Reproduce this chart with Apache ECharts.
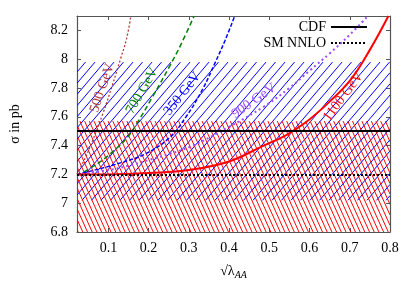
<!DOCTYPE html>
<html><head><meta charset="utf-8">
<script src="https://cdn.jsdelivr.net/npm/echarts@6/dist/echarts.min.js"></script>
<style>html,body{margin:0;padding:0;background:#fff}#c{width:415px;height:291px}</style>
</head><body><div id="c"></div>
<script>
// ---- data ----
const xTicks = [0.1, 0.2, 0.3, 0.4, 0.5, 0.6, 0.7, 0.8];
const yTicks = [6.8, 7.0, 7.2, 7.4, 7.6, 7.8, 8.0, 8.2];
const cdfValue = 7.5;
const cdfBand = [7.02, 7.98];
const nnloValue = 7.2;
const nnloBand = [6.8, 7.57];

const c500x = [0.022, 0.04, 0.06, 0.086, 0.11, 0.13, 0.145, 0.156];
const c500y = [7.2, 7.3, 7.43, 7.62, 7.82, 8.0, 8.14, 8.3];
const c700x = [0.022, 0.076, 0.12, 0.148, 0.17, 0.21, 0.252, 0.28, 0.313];
const c700y = [7.19, 7.28, 7.38, 7.46, 7.55, 7.74, 7.95, 8.1, 8.3];
const c350x = [0.022, 0.08, 0.13, 0.19, 0.25, 0.293, 0.334, 0.366, 0.39, 0.414];
const c350y = [7.2, 7.24, 7.28, 7.34, 7.45, 7.6, 7.79, 7.98, 8.13, 8.3];
const c900x = [0.022, 0.10, 0.15, 0.20, 0.25, 0.31, 0.40, 0.486, 0.55, 0.60, 0.65, 0.70, 0.745];
const c900y = [7.2, 7.23, 7.26, 7.3, 7.34, 7.4, 7.53, 7.67, 7.8, 7.92, 8.04, 8.17, 8.3];
const c1100x = [0.022, 0.10, 0.20, 0.30, 0.40, 0.486, 0.54, 0.59, 0.648, 0.703, 0.751, 0.796];
const c1100y = [7.2, 7.2, 7.21, 7.23, 7.29, 7.40, 7.47, 7.56, 7.70, 7.86, 8.07, 8.3];

const curveLabels = ['500 GeV', '700 GeV', '350 GeV', '900 GeV', '1100 GeV'];
const labelPosX = [0.085, 0.184, 0.284, 0.462, 0.684];
const labelPosY = [7.80, 7.78, 7.76, 7.71, 7.74];
</script>
<script>
const FONT = 'Liberation Serif';
const pairs = (xs, ys) => xs.map((x, i) => [x, ys[i]]);
const XMIN = 0.022, XMAX = 0.8, YMIN = 6.8, YMAX = 8.3;

// hatch lines clipped to a pixel rectangle; direction (dx, 1) going downward
function hatchLines(x0, y0, x1, y1, spacing, dx, color) {
  const H = y1 - y0, out = [];
  const kStart = Math.floor((Math.min(x0, x0 - dx * H) - spacing) / spacing);
  const kEnd = Math.ceil((Math.max(x1, x1 - dx * H) + spacing) / spacing);
  for (let k = kStart; k <= kEnd; k++) {
    const xt = k * spacing;
    let tmin = 0, tmax = H;
    if (dx !== 0) {
      const tA = (x0 - xt) / dx, tB = (x1 - xt) / dx;
      tmin = Math.max(0, Math.min(tA, tB));
      tmax = Math.min(H, Math.max(tA, tB));
    }
    if (tmin < tmax) {
      out.push({ type: 'line', silent: true,
        shape: { x1: xt + dx * tmin, y1: y0 + tmin, x2: xt + dx * tmax, y2: y0 + tmax },
        style: { stroke: color, lineWidth: 1 } });
    }
  }
  return out;
}

function band(name, lo, hi, spacing, dx, color, z) {
  return {
    name, type: 'custom', z, silent: true, clip: true,
    data: [[lo, hi]],
    renderItem: (params, api) => {
      const p1 = api.coord([XMIN, api.value(1)]);
      const p2 = api.coord([XMAX, api.value(0)]);
      return { type: 'group', children: hatchLines(p1[0], p1[1], p2[0], p2[1], spacing, dx, color) };
    }
  };
}

function curve(name, xs, ys, color, type, width, idx, rot) {
  return {
    name, type: 'line', data: pairs(xs, ys), smooth: 0.4, symbol: 'none', z: 4,
    lineStyle: { color, type, width }, itemStyle: { color },
    markPoint: {
      symbol: 'circle', symbolSize: 0, silent: true,
      data: [{ coord: [labelPosX[idx], labelPosY[idx]], value: curveLabels[idx] }],
      label: { show: true, position: 'inside', formatter: curveLabels[idx], rotate: rot,
        color, fontFamily: FONT, fontSize: 14 }
    }
  };
}

const chart = echarts.init(document.getElementById('c'), null, { renderer: 'canvas' });
chart.setOption({
  animation: false,
  grid: { left: 68, right: 25, top: 16, bottom: 59 },
  legend: {
    right: 42, top: 15, orient: 'vertical', align: 'right', itemGap: 2,
    itemWidth: 36, itemHeight: 12,
    itemStyle: { opacity: 0 },
    data: ['CDF', 'SM NNLO'],
    textStyle: { fontFamily: FONT, fontSize: 14, color: '#000' }
  },
  xAxis: [{
    type: 'value', min: XMIN, max: XMAX, position: 'bottom',
    axisLine: { onZero: false, lineStyle: { color: '#555', width: 1.2 } },
    axisTick: { inside: true, length: 4, customValues: xTicks, lineStyle: { color: '#555' } },
    axisLabel: { customValues: xTicks, formatter: v => v.toFixed(1), color: '#000', fontFamily: FONT, fontSize: 14, margin: 9 },
    splitLine: { show: false },
    name: '{a|√λ}{b|AA}', nameLocation: 'middle', nameGap: 30,
    nameTextStyle: { rich: {
      a: { fontFamily: FONT, fontSize: 14, color: '#000' },
      b: { fontFamily: FONT, fontSize: 10, fontStyle: 'italic', color: '#000', padding: [8, 0, 0, 0] }
    } }
  }, {
    type: 'value', min: XMIN, max: XMAX, position: 'top',
    axisLine: { onZero: false, lineStyle: { color: '#555', width: 1.2 } },
    axisTick: { inside: true, length: 4, customValues: xTicks, lineStyle: { color: '#555' } },
    axisLabel: { show: false }, splitLine: { show: false }
  }],
  yAxis: [{
    type: 'value', min: YMIN, max: YMAX, position: 'left',
    axisLine: { show: true, onZero: false, lineStyle: { color: '#555', width: 1.2 } },
    axisTick: { show: true, inside: true, length: 4, customValues: yTicks, lineStyle: { color: '#555' } },
    axisLabel: { customValues: yTicks, formatter: v => (Math.round(v * 10) / 10).toString(), color: '#000', fontFamily: FONT, fontSize: 14, margin: 9 },
    splitLine: { show: false },
    name: 'σ in pb', nameLocation: 'middle', nameGap: 55, nameRotate: 90,
    nameTextStyle: { fontFamily: FONT, fontSize: 14, color: '#000' }
  }, {
    type: 'value', min: YMIN, max: YMAX, position: 'right',
    axisLine: { show: true, onZero: false, lineStyle: { color: '#555', width: 1.2 } },
    axisTick: { show: true, inside: true, length: 4, customValues: yTicks, lineStyle: { color: '#555' } },
    axisLabel: { show: false }, splitLine: { show: false }
  }],
  series: [
    band('bandBlue', cdfBand[0], cdfBand[1], 9.5, -0.85, '#0000ff', 1),
    band('bandRed', nnloBand[0], nnloBand[1], 4.7, 0.45, '#ff0000', 2),
    { name: 'CDF', type: 'line', data: [], z: 3, symbol: 'none',
      lineStyle: { color: '#000', width: 1.8, type: 'solid' }, itemStyle: { color: '#000' },
      markLine: { silent: true, symbol: 'none', label: { show: false },
        lineStyle: { color: '#000', width: 1.8, type: 'solid' }, data: [{ yAxis: cdfValue }] } },
    { name: 'SM NNLO', type: 'line', data: [], z: 3, symbol: 'none',
      lineStyle: { color: '#000', width: 2, type: [2, 2] }, itemStyle: { color: '#000' },
      markLine: { silent: true, symbol: 'none', label: { show: false },
        lineStyle: { color: '#000', width: 2, type: [2, 2] }, data: [{ yAxis: nnloValue }] } },
    curve('c500', c500x, c500y, '#b03838', [2, 2], 1.3, 0, 71),
    curve('c700', c700x, c700y, '#008000', [5, 3], 1.5, 1, 60),
    curve('c350', c350x, c350y, '#0000ff', [4, 2], 1.5, 2, 52),
    curve('c900', c900x, c900y, '#9a4cff', [2, 3], 2, 3, 35),
    curve('c1100', c1100x, c1100y, '#ff0000', 'solid', 2, 4, 53)
  ]
});
</script>
</body></html>
